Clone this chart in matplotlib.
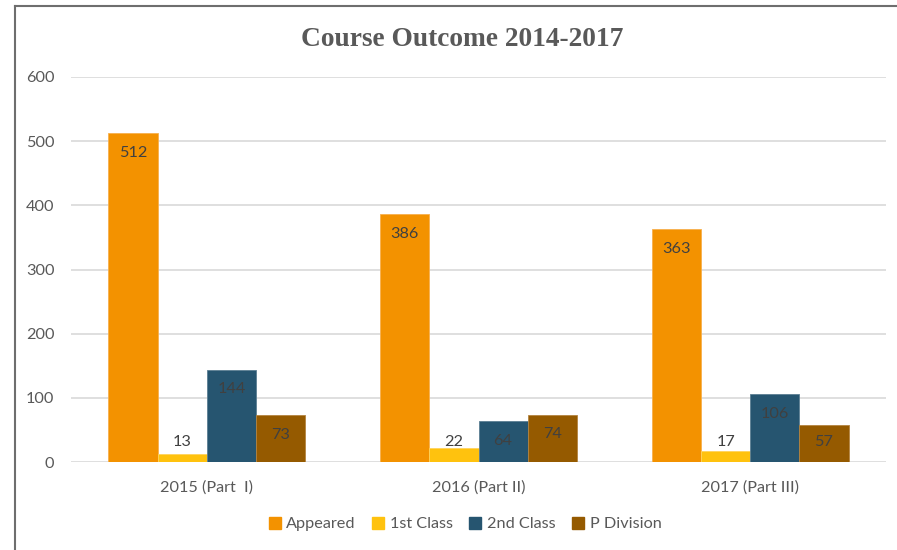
import matplotlib
matplotlib.use('Agg')
import matplotlib.pyplot as plt
from matplotlib.lines import Line2D
import numpy as np

plt.rcParams['font.family'] = ['Lato', 'DejaVu Sans']

categories = ['2015 (Part  I)', '2016 (Part II)', '2017 (Part III)']
series_names = ['Appeared', '1st Class', '2nd Class', 'P Division']
appeared = [512, 386, 363]
first_class = [13, 22, 17]
second_class = [144, 64, 106]
p_division = [73, 74, 57]
yticks = [0, 100, 200, 300, 400, 500, 600]

series = [appeared, first_class, second_class, p_division]
colors = ['#F39200', '#FFC20E', '#265570', '#955A00']
edge_colors = ['#F7B04D', '#FFD45C', '#5C7E92', '#B48440']

fig = plt.figure(figsize=(8.97, 5.5), dpi=100)
ax = fig.add_axes([71/897, 1 - 462/550, 815/897, 385/550])

x = np.arange(len(categories))
width = 0.181
for i, (vals, col) in enumerate(zip(series, colors)):
    offs = (i - 1.5) * width
    bars = ax.bar(x + offs, vals, width, color=col, edgecolor=edge_colors[i],
                  linewidth=0.6, label=series_names[i], zorder=3)
    for xi, v in zip(x + offs, vals):
        # inside end, but never lower than the bottom band
        ly = max(v - 31, 31)
        ax.text(xi, ly, f'{v}', ha='center', va='center', fontsize=11.7,
                color='#404040', zorder=4)

ax.set_xlim(-0.5, 2.5)
ax.set_ylim(0, 600)
ax.set_yticks(yticks)
ax.set_xticks(x)
ax.set_xticklabels(categories)
ax.tick_params(axis='both', length=0, labelsize=11.7, labelcolor='#595959')
ax.tick_params(axis='y', pad=12)
ax.tick_params(axis='x', pad=13)
ax.grid(axis='y', color='#D9D9D9', linewidth=1.2, zorder=0)
ax.set_axisbelow(True)
for s in ax.spines.values():
    s.set_visible(False)

fig.text(462/897, 1 - 39/550, 'Course Outcome 2014-2017', ha='center', va='center',
         fontsize=19.7, fontweight='bold', color='#595959', family='Liberation Serif')

handles = [Line2D([0], [0], marker='s', linestyle='none', markersize=8,
                  markerfacecolor=c, markeredgecolor=c) for c in colors]
fig.legend(handles, series_names, loc='center', bbox_to_anchor=(464/897, 1 - 524/550),
           ncol=4, frameon=False, fontsize=11.7, labelcolor='#595959',
           handletextpad=0.2, columnspacing=0.9, handlelength=1.0)

# chart frame (left and top edges visible in the original crop)
fig.add_artist(Line2D([15/897, 15/897], [0, 1 - 6/550], transform=fig.transFigure,
                      color='#6E6E6E', linewidth=1.5))
fig.add_artist(Line2D([15/897, 1], [1 - 6/550, 1 - 6/550], transform=fig.transFigure,
                      color='#6E6E6E', linewidth=1.5))

fig.savefig('out.png', dpi=100, facecolor='white')
